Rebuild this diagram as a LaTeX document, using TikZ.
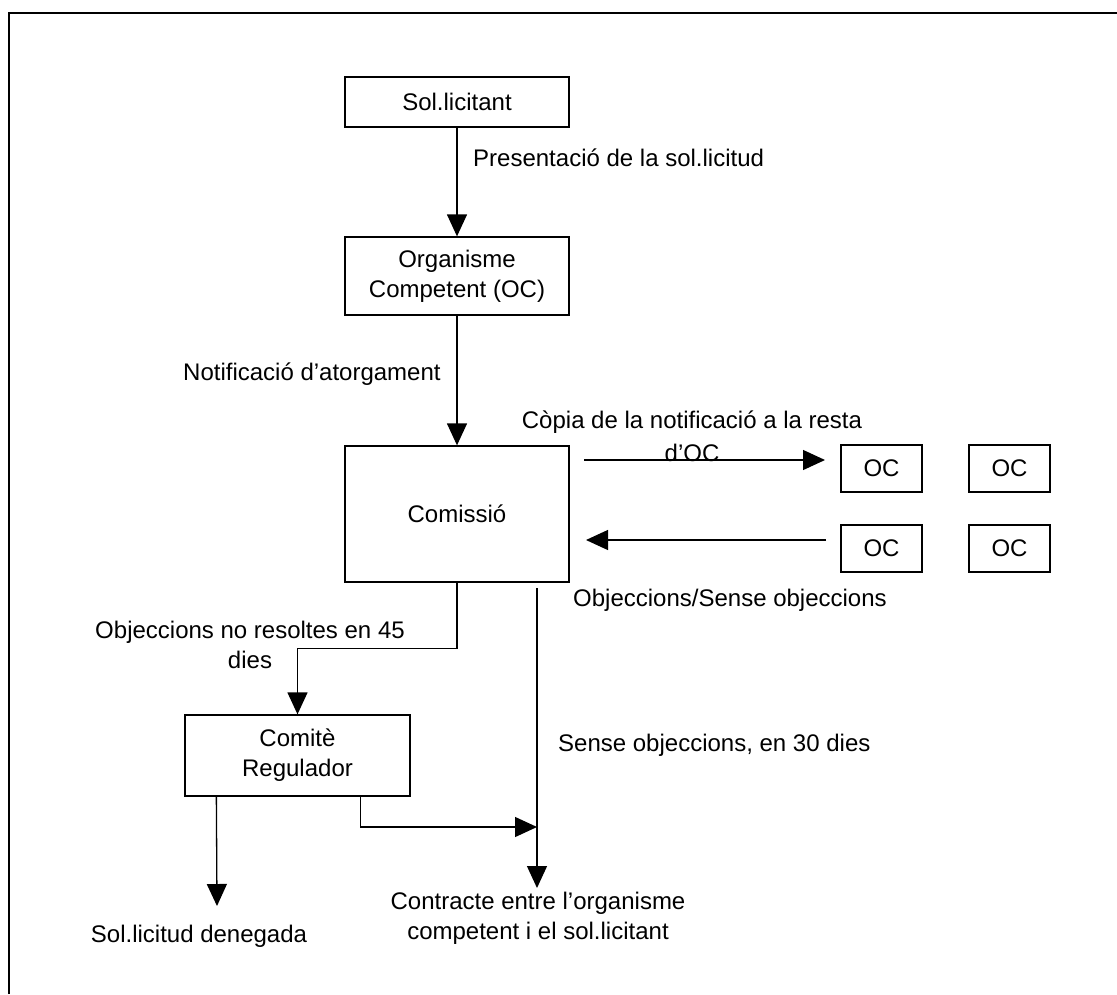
\documentclass[tikz,border=0pt]{standalone}
\usepackage{fontspec}
\setmainfont{Liberation Sans}
\usetikzlibrary{arrows.meta,calc}
\tikzset{
  txt/.style={font=\fontsize{24}{30}\selectfont, inner sep=0pt, align=center},
  box/.style={draw, line width=1.3pt, inner sep=0pt, align=center,
              font=\fontsize{24}{30}\selectfont},
  arr/.style={line width=1.3pt, -{Triangle[length=22pt,width=20pt]}},
  ln/.style={line width=1.3pt}
}
\begin{document}
\begin{tikzpicture}[x=1pt,y=-1pt]
\useasboundingbox (0,0) rectangle (1117,994);
% frame
\draw[line width=1.6pt] (9,994) -- (9,13) -- (1117,13);

% boxes
\node[box, minimum width=224pt, minimum height=50pt] (sol) at (457,102) {Sol.licitant};
\node[box, minimum width=224pt, minimum height=78pt] (org) at (457,276) {Organisme\\Competent (OC)};
\node[box, minimum width=224pt, minimum height=136pt] (com) at (457,514) {Comissió};
\node[box, minimum width=225pt, minimum height=81pt] (comite) at (297.5,755.5) {Comitè\\Regulador};
\node[box, minimum width=81pt, minimum height=47pt] (oc1) at (881.5,468.5) {OC};
\node[box, minimum width=81pt, minimum height=47pt] (oc2) at (1009.5,468.5) {OC};
\node[box, minimum width=81pt, minimum height=47pt] (oc3) at (881.5,548.5) {OC};
\node[box, minimum width=81pt, minimum height=47pt] (oc4) at (1009.5,548.5) {OC};

% labels
\node[txt, anchor=west] (lpres) at (473,158) {Presentació de la sol.licitud};
\node[txt, anchor=west] (lnot) at (183,374) {Notificació d’atorgament};
\node[txt] (lcopia) at (692,436) {Còpia de la notificació a la resta\\[3pt]d’OC};
\node[txt, anchor=west] (lobj) at (573,600) {Objeccions/Sense objeccions};
\node[txt] (l45) at (250,645) {Objeccions no resoltes en 45\\dies};
\node[txt, anchor=west] (l30) at (558,745) {Sense objeccions, en 30 dies};
\node[txt, anchor=north] (contracte) at (538,892) {Contracte entre l’organisme\\competent i el sol.licitant};
\node[txt, anchor=north] (denegada) at (199,925) {Sol.licitud denegada};

% free ends of the side arrows
\coordinate (cpA) at (584,460);
\coordinate (cpB) at (825,460);
\coordinate (obA) at (826,540);
\coordinate (obB) at (586,540);
\coordinate (s30) at (537,588);
\coordinate (cj) at (537,827);
\coordinate (ctip) at (537,888);
\coordinate (dtip) at (217,906);

% connectors
\draw[arr] (sol.south) -- (org.north);
\draw[arr] (org.south) -- (com.north);
\draw[arr] (cpA) -- (cpB);
\draw[arr] (obA) -- (obB);
\draw[arr] (com.south) -- ++(0,66) -| (comite.north);
\draw[arr] (s30) -- (ctip);
\draw[arr] ($(comite.south west)+(176,0)$) |- (cj);
\draw[arr] ($(comite.south west)+(32,0)$) -- (dtip);
\end{tikzpicture}
\end{document}
